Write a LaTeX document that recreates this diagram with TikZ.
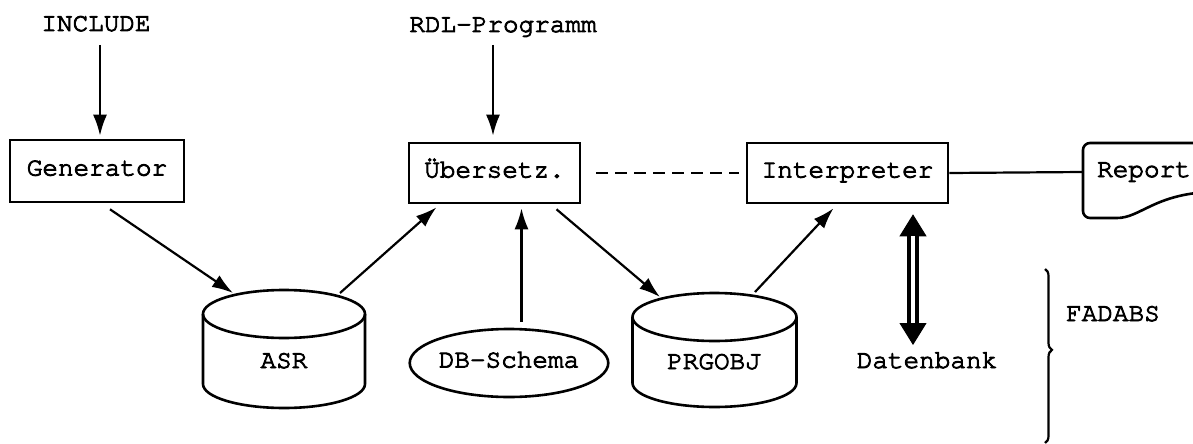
\documentclass[tikz,border=0pt]{standalone}
\usepackage{fontspec}
\newfontfamily\twfont{TeX Gyre Cursor}[FakeBold=3.5]
\usetikzlibrary{arrows.meta,calc,decorations.pathreplacing,shapes.geometric}
\begin{document}
\begin{tikzpicture}[x=1pt,y=-1pt,
  every node/.style={font=\twfont\fontsize{26}{30}\selectfont, inner sep=0pt},
  box/.style={draw, line width=2.6pt, text height=12pt, text depth=3pt},
  arr/.style={-{Latex[length=21pt,width=14pt]}, line width=2.2pt},
  lbl/.style={anchor=base},
  shp/.style={line width=2.6pt}]
\useasboundingbox (0,0) rectangle (1193,444);
% boxes and labels
\node[box, minimum width=174, minimum height=62] (gen) at (97,171) {Generator};
\node[box, minimum width=171, minimum height=60] (ueb) at (494.5,173) {Übersetz.};
\node[box, minimum width=201, minimum height=60] (int) at (847.5,173) {Interpreter};
\node[lbl] (inc) at (96,31) {INCLUDE};
\node[lbl] (rdl) at (503,32) {RDL-Programm};
\node[lbl] (asr) at (284,368) {ASR};
\node[lbl] (prg) at (714,369) {PRGOBJ};
\node[draw, ellipse, shp, minimum width=182, minimum height=68, text height=12pt, text depth=3pt] (db) at (509,363) {DB-Schema};
\node[lbl] (dat) at (927,368) {Datenbank};
\node[lbl] (fad) at (1113,321) {FADABS};
\node[lbl] (rep) at (1144,177) {Report};
% cylinders
\draw[shp] (203,314) -- (203,384) arc[start angle=180, end angle=0, x radius=81, y radius=24] -- (365,314);
\draw[shp] (284,314) ellipse[x radius=81, y radius=24];
\draw[shp] (632.5,317) -- (632.5,383) arc[start angle=180, end angle=0, x radius=82, y radius=24] -- (796.5,317);
\draw[shp] (714.5,317) ellipse[x radius=82, y radius=24];
% connectors
\draw[arr] ($(inc.base)+(4,14)$) -- ($(gen.north)+(3,-3)$);
\draw[arr] ($(rdl.base)+(-10,13)$) -- ($(ueb.north)+(-1.5,-6)$);
\draw[arr] ($(gen.south)+(13,6)$) -- ($(asr.base)+(-51,-75)$);
\draw[arr] ($(asr.base)+(56,-75)$) -- ($(ueb.south)+(-58,3)$);
\draw[arr] ($(db.north)+(12.5,-6)$) -- ($(ueb.south)+(27,4)$);
\draw[arr] ($(ueb.south)+(62,5)$) -- ($(prg.base)+(-54,-72)$);
\draw[arr] ($(prg.base)+(41,-77)$) -- ($(int.south)+(-14,4)$);
\draw[shp, dash pattern=on 12pt off 7pt] ($(ueb.east)+(15,0)$) -- ($(int.west)+(-7,0)$);
\draw[line width=2.2pt] (int.east) -- ($(rep.base)+(-61,-5)$);
% double arrow to Datenbank
\coordinate (dtop) at ($(int.south)+(65.5,10)$);
\coordinate (dbot) at ($(dat.base)+(-14,-23)$);
\draw[{Triangle[length=22pt,width=27pt]}-{Triangle[length=22pt,width=27pt]}, line width=1pt] (dtop) -- (dbot);
\draw[line width=12pt, shorten <=21pt, shorten >=21pt] (dtop) -- (dbot);
\draw[white, line width=4pt, shorten <=22pt, shorten >=22pt] (dtop) -- (dbot);
% brace
\draw[line width=2.2pt, decorate, decoration={brace, amplitude=7pt, aspect=0.465}] (1045,269) -- (1045,443);
% report document shape
\begin{scope}
\clip (0,0) rectangle (1193,444);
\draw[shp, rounded corners=7pt] (1210,143) -- (1083,143) -- (1083,218) -- (1110,218) [sharp corners] .. controls (1140,218) and (1155,194) .. (1210,192);
\end{scope}
\end{tikzpicture}
\end{document}
